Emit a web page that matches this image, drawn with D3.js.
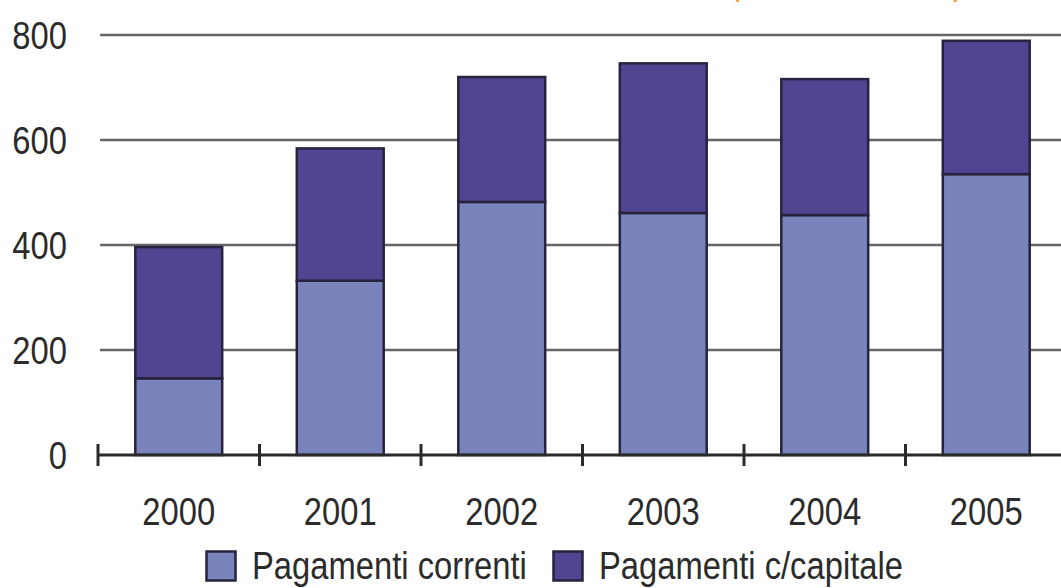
<!DOCTYPE html>
<html>
<head>
<meta charset="utf-8">
<script src="https://cdn.jsdelivr.net/npm/d3@7"></script>
<style>
  body { margin: 0; background: #fff; }
  svg text { font-family: "Liberation Sans", Arial, sans-serif; fill: #2b2b2b; }
</style>
</head>
<body>
<svg width="1061" height="588"></svg>
<script>
var years = ["2000", "2001", "2002", "2003", "2004", "2005"];
var correnti = [146, 332, 482, 461, 457, 535];
var capitale = [250, 252, 238, 285, 259, 254];
var yTicks = [0, 200, 400, 600, 800];
var seriesNames = ["Pagamenti correnti", "Pagamenti c/capitale"];
var colors = ["#7a84bc", "#514592"];

var svg = d3.select("svg"),
    width = +svg.attr("width"),
    height = +svg.attr("height");

// the original uses a narrow face: squeeze Liberation Sans horizontally
var squeeze = 0.84;
function place(px, py) { return "translate(" + px + "," + py + ") scale(" + squeeze + ",1)"; }

var x = d3.scaleBand()
    .domain(years)
    .range([98, 1067])
    .paddingInner(0.462)
    .paddingOuter(0.231);

var y = d3.scaleLinear()
    .domain([0, 800])
    .range([455, 35]);

var rows = years.map(function(d, i) {
  return { year: d, correnti: correnti[i], capitale: capitale[i] };
});
var stack = d3.stack().keys(["correnti", "capitale"])(rows);

// gridlines
svg.append("g")
  .selectAll("line")
  .data(yTicks.filter(function(d) { return d > 0; }))
  .enter().append("line")
    .attr("x1", 100).attr("x2", width)
    .attr("y1", function(d) { return y(d); })
    .attr("y2", function(d) { return y(d); })
    .attr("stroke", "#666")
    .attr("stroke-width", 2.4);

// y labels
svg.append("g")
  .selectAll("text")
  .data(yTicks)
  .enter().append("text")
    .attr("transform", function(d) { return place(67, y(d)); })
    .attr("dy", "0.36em")
    .attr("text-anchor", "end")
    .attr("font-size", 39)
    .text(function(d) { return d; });

// bars
svg.append("g")
  .selectAll("g")
  .data(stack)
  .enter().append("g")
    .attr("fill", function(d, i) { return colors[i]; })
  .selectAll("rect")
  .data(function(d) { return d; })
  .enter().append("rect")
    .attr("x", function(d) { return x(d.data.year); })
    .attr("y", function(d) { return y(d[1]); })
    .attr("width", x.bandwidth())
    .attr("height", function(d) { return y(d[0]) - y(d[1]); })
    .attr("stroke", "#27223d")
    .attr("stroke-width", 2.5);

// x axis line and ticks between categories
var gap = (x.step() - x.bandwidth()) / 2;
svg.append("line")
  .attr("x1", 98).attr("x2", width)
  .attr("y1", y(0)).attr("y2", y(0))
  .attr("stroke", "#2a2a2a")
  .attr("stroke-width", 3);

svg.append("g")
  .selectAll("line")
  .data(years)
  .enter().append("line")
    .attr("x1", function(d) { return x(d) - gap; })
    .attr("x2", function(d) { return x(d) - gap; })
    .attr("y1", y(0) - 11).attr("y2", y(0) + 11)
    .attr("stroke", "#2a2a2a")
    .attr("stroke-width", 3);

svg.append("g")
  .selectAll("text")
  .data(years)
  .enter().append("text")
    .attr("transform", function(d) { return place(x(d) + x.bandwidth() / 2, 525); })
    .attr("text-anchor", "middle")
    .attr("font-size", 39)
    .text(function(d) { return d; });

// legend
var legendX = [205, 552];
var legend = svg.append("g")
  .selectAll("g")
  .data(seriesNames)
  .enter().append("g")
    .attr("transform", function(d, i) { return "translate(" + legendX[i] + ",550)"; });

legend.append("rect")
  .attr("x", 1.5).attr("y", 1.5)
  .attr("width", 29).attr("height", 29)
  .attr("fill", function(d, i) { return colors[i]; })
  .attr("stroke", "#27223d")
  .attr("stroke-width", 2.5);

legend.append("text")
  .attr("transform", place(47, 29))
  .attr("font-size", 39)
  .text(function(d) { return d; });

// cut-off orange heading above the plot
svg.append("g")
  .selectAll("text")
  .data([{ x: 730, t: "(" }, { x: 953, t: ")" }])
  .enter().append("text")
    .attr("x", function(d) { return d.x; })
    .attr("y", -4)
    .attr("font-size", 30)
    .style("fill", "#f0961e")
    .text(function(d) { return d.t; });
</script>
</body>
</html>
